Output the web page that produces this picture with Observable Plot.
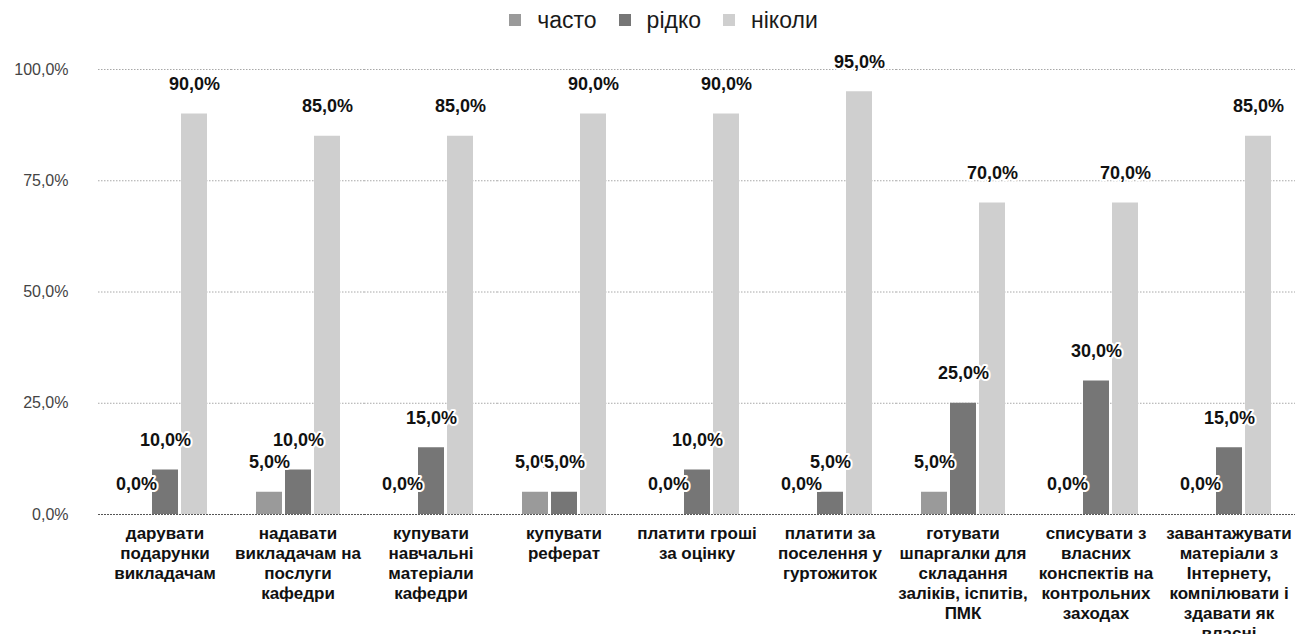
<!DOCTYPE html>
<html><head><meta charset="utf-8">
<script src="https://cdn.jsdelivr.net/npm/d3@7"></script>
<script src="https://cdn.jsdelivr.net/npm/@observablehq/plot@0.6"></script>
<style>
body{margin:0;background:#fff;font-family:"Liberation Sans",Arial,sans-serif;}
#legend{height:40px;display:flex;justify-content:center;align-items:center;gap:22px;padding-left:16px;font-size:23px;color:#1a1a1a}
.item{display:flex;align-items:center;gap:16px}
.sw{width:12px;height:12px;display:inline-block}
#chart svg{display:block}
</style></head><body>
<div id="legend"></div>
<div id="chart"></div>
<script>
const categories = [
  "дарувати подарунки викладачам",
  "надавати викладачам на послуги кафедри",
  "купувати навчальні матеріали кафедри",
  "купувати реферат",
  "платити гроші за оцінку",
  "платити за поселення у гуртожиток",
  "готувати шпаргалки для складання заліків, іспитів, ПМК",
  "списувати з власних конспектів на контрольних заходах",
  "завантажувати матеріали з Інтернету, компілювати і здавати як власні"
];
const tickLabels = [
  "дарувати\nподарунки\nвикладачам",
  "надавати\nвикладачам на\nпослуги\nкафедри",
  "купувати\nнавчальні\nматеріали\nкафедри",
  "купувати\nреферат",
  "платити гроші\nза оцінку",
  "платити за\nпоселення у\nгуртожиток",
  "готувати\nшпаргалки для\nскладання\nзаліків, іспитів,\nПМК",
  "списувати з\nвласних\nконспектів на\nконтрольних\nзаходах",
  "завантажувати\nматеріали з\nІнтернету,\nкомпілювати і\nздавати як\nвласні"
];
const series = ["часто", "рідко", "ніколи"];
const often  = [0, 5, 0, 5, 0, 0, 5, 0, 0];
const rarely = [10, 10, 15, 5, 10, 5, 25, 30, 15];
const never  = [90, 85, 85, 90, 90, 95, 70, 70, 85];
const yTicks = [0, 25, 50, 75, 100];
const colors = ["#9a9a9a", "#767676", "#cfcfcf"];

const rows = [];
categories.forEach((c, i) => {
  [often, rarely, never].forEach((arr, j) => rows.push({category: c, series: series[j], value: arr[i]}));
});
const fmt = v => v.toFixed(1).replace(".", ",") + "%";

const legend = document.getElementById("legend");
series.forEach((s, i) => {
  const it = document.createElement("div");
  it.className = "item";
  const sw = document.createElement("span");
  sw.className = "sw"; sw.style.background = colors[i];
  const t = document.createElement("span"); t.textContent = s;
  it.appendChild(sw); it.appendChild(t);
  legend.appendChild(it);
});

const plot = Plot.plot({
  width: 1311, height: 594,
  marginTop: 29, marginBottom: 120, marginLeft: 97, marginRight: 16,
  style: {fontFamily: "Liberation Sans, Arial, sans-serif", background: "white"},
  fx: {domain: categories, paddingInner: 0, paddingOuter: 0, label: null},
  x: {domain: series, paddingInner: 0.12, paddingOuter: 0.8, axis: null},
  y: {domain: [0, 100], label: null},
  color: {domain: series, range: colors},
  marks: [
    Plot.gridY(yTicks.filter(d => d > 0), {stroke: "#a8a8a8", strokeOpacity: 1, strokeDasharray: "1.5,1.5"}),
    Plot.axisY(yTicks, {tickSize: 0, tickPadding: 30, tickFormat: fmt, fontSize: 16, fill: "#444", label: null}),
    Plot.axisFx({anchor: "bottom", tickSize: 0, tickPadding: 10, tickFormat: d => tickLabels[categories.indexOf(d)],
                 fontSize: 17, fontWeight: "bold", lineHeight: 1.18, fill: "#111", label: null}),
    Plot.barY(rows, {fx: "category", x: "series", y: "value", fill: "series"}),
    Plot.ruleY([0], {stroke: "#555", strokeDasharray: "2,1"}),
    Plot.text(rows, {fx: "category", x: "series", y: "value", text: d => fmt(d.value), dy: -30,
                     fontSize: 18, fontWeight: "bold", fill: "#111", stroke: "white", strokeWidth: 4})
  ]
});
document.getElementById("chart").appendChild(plot);
</script>
</body></html>
